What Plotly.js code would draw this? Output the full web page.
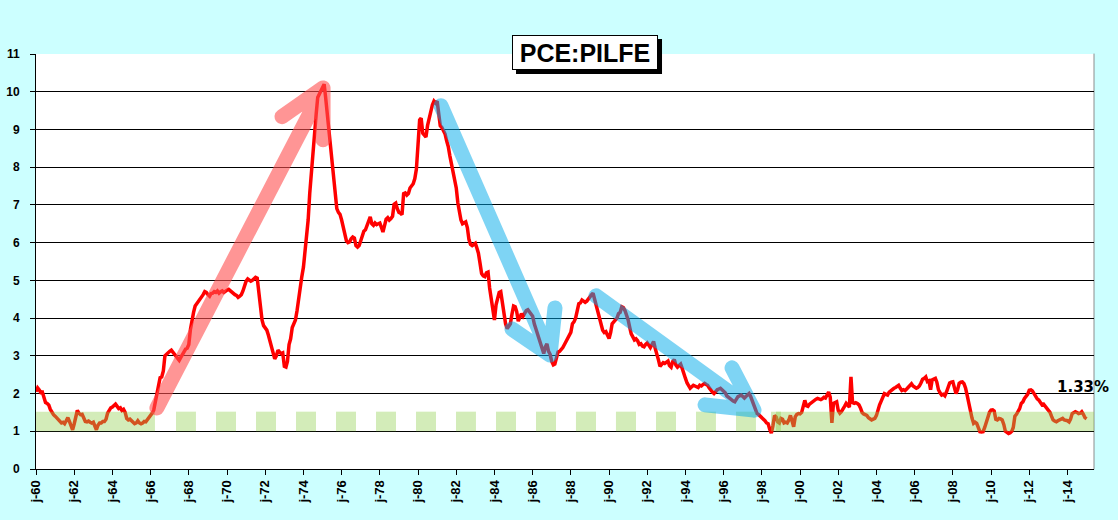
<!DOCTYPE html>
<html>
<head>
<meta charset="utf-8">
<script src="https://cdn.plot.ly/plotly-3.0.1.min.js"></script>
<style>
html, body { margin: 0; padding: 0; background: #CCFFFF; }
#plot { width: 1118px; height: 520px; }
.shapelayer path { stroke-linecap: round; stroke-linejoin: round; }
</style>
</head>
<body>
<div id="plot"></div>
<script>
// core PCE, yoy %, monthly from Jan 1960
var startYear = 1960;
var Core = [
  2.05, 2.15, 2.10, 2.03, 2.04, 1.88, 1.76, 1.74, 1.70, 1.58, 1.50, 1.44, // 1960
  1.40, 1.36, 1.32, 1.27, 1.22, 1.24, 1.20, 1.28, 1.36, 1.26, 1.12, 1.04,
  1.20, 1.38, 1.55, 1.48, 1.44, 1.45, 1.32, 1.26, 1.25, 1.27, 1.24, 1.22,
  1.24, 1.15, 1.04, 1.16, 1.22, 1.22, 1.26, 1.26, 1.32, 1.48, 1.55, 1.62,
  1.64, 1.70, 1.72, 1.66, 1.60, 1.62, 1.55, 1.58, 1.50, 1.34, 1.30, 1.32,
  1.28, 1.24, 1.20, 1.22, 1.28, 1.22, 1.20, 1.22, 1.26, 1.25, 1.30, 1.36, // 1965
  1.42, 1.48, 1.56, 1.80, 2.00, 2.30, 2.42, 2.44, 2.60, 3.00, 3.05, 3.10,
  3.12, 3.15, 3.10, 3.05, 2.98, 2.92, 2.88, 2.96, 3.05, 3.10, 3.18, 3.20,
  3.30, 3.70, 3.98, 4.15, 4.32, 4.38, 4.42, 4.48, 4.55, 4.62, 4.70, 4.68,
  4.62, 4.58, 4.65, 4.66, 4.70, 4.68, 4.72, 4.66, 4.70, 4.72, 4.68, 4.72,
  4.74, 4.76, 4.72, 4.70, 4.65, 4.62, 4.60, 4.55, 4.58, 4.62, 4.72, 4.85, // 1970
  4.98, 5.04, 5.02, 4.98, 5.00, 5.04, 5.08, 5.06, 4.70, 4.20, 3.95, 3.80,
  3.75, 3.68, 3.55, 3.40, 3.28, 3.05, 2.92, 3.00, 3.15, 3.10, 3.06, 3.08,
  2.72, 2.70, 2.85, 3.30, 3.45, 3.75, 3.85, 3.95, 4.20, 4.55, 4.85, 5.10,
  5.35, 5.80, 6.10, 6.60, 7.30, 7.90, 8.30, 8.80, 9.40, 9.85, 9.95, 10.05,
  10.10, 10.20, 9.85, 9.40, 9.00, 8.55, 8.00, 7.60, 7.10, 6.90, 6.80, 6.75, // 1975
  6.60, 6.40, 6.20, 6.05, 6.00, 6.02, 6.10, 6.15, 6.12, 5.92, 5.88, 5.92,
  6.05, 6.22, 6.30, 6.34, 6.45, 6.62, 6.68, 6.50, 6.46, 6.52, 6.48, 6.50,
  6.52, 6.40, 6.28, 6.45, 6.62, 6.66, 6.60, 6.64, 6.70, 7.02, 7.05, 6.90,
  6.80, 6.78, 6.74, 7.30, 7.32, 7.26, 7.30, 7.45, 7.50, 7.56, 7.70, 7.95,
  8.60, 9.25, 9.30, 8.90, 8.85, 8.80, 9.10, 9.30, 9.50, 9.65, 9.75, 9.70, // 1980
  9.75, 9.35, 9.10, 9.05, 8.95, 8.88, 8.70, 8.55, 8.30, 8.10, 7.90, 7.72,
  7.45, 7.05, 6.80, 6.60, 6.50, 6.52, 6.55, 6.40, 6.08, 5.95, 5.92, 5.95,
  5.98, 5.85, 5.72, 5.45, 5.18, 5.12, 5.10, 5.20, 5.22, 4.80, 4.55, 4.30,
  3.95, 4.35, 4.55, 4.68, 4.70, 4.40, 4.10, 3.85, 3.72, 3.80, 3.85, 4.10,
  4.32, 4.30, 4.18, 3.92, 4.02, 4.12, 4.05, 4.14, 4.20, 4.22, 4.16, 4.08, // 1985
  4.05, 3.85, 3.72, 3.62, 3.50, 3.36, 3.20, 3.06, 3.24, 3.32, 3.12, 3.04,
  2.85, 2.76, 2.78, 2.92, 3.10, 3.12, 3.16, 3.22, 3.30, 3.38, 3.48, 3.55,
  3.62, 3.85, 3.90, 4.00, 4.20, 4.38, 4.40, 4.48, 4.45, 4.42, 4.45, 4.52,
  4.56, 4.62, 4.66, 4.50, 4.38, 4.20, 4.02, 3.85, 3.68, 3.62, 3.64, 3.55,
  3.46, 3.62, 3.85, 3.90, 3.95, 4.00, 4.12, 4.15, 4.30, 4.28, 4.20, 4.10, // 1990
  3.95, 3.75, 3.58, 3.50, 3.42, 3.45, 3.40, 3.30, 3.32, 3.26, 3.24, 3.30,
  3.34, 3.28, 3.22, 3.30, 3.38, 3.20, 3.00, 2.90, 2.72, 2.78, 2.82, 2.80,
  2.82, 2.86, 2.74, 2.70, 2.85, 2.90, 2.76, 2.70, 2.74, 2.78, 2.66, 2.50,
  2.40, 2.28, 2.20, 2.14, 2.18, 2.22, 2.20, 2.18, 2.16, 2.22, 2.20, 2.24,
  2.27, 2.24, 2.22, 2.15, 2.08, 2.04, 2.00, 2.06, 2.10, 2.12, 2.14, 2.10, // 1995
  2.06, 2.02, 1.94, 1.90, 1.88, 1.84, 1.80, 1.78, 1.86, 1.92, 1.94, 1.96,
  1.92, 1.88, 1.92, 1.98, 2.00, 1.92, 1.80, 1.65, 1.55, 1.47, 1.44, 1.40,
  1.38, 1.32, 1.28, 1.22, 1.20, 1.05, 0.95, 1.15, 1.42, 1.38, 1.25, 1.22,
  1.34, 1.32, 1.22, 1.24, 1.22, 1.30, 1.42, 1.28, 1.12, 1.38, 1.45, 1.47,
  1.46, 1.50, 1.70, 1.82, 1.68, 1.66, 1.72, 1.76, 1.78, 1.84, 1.85, 1.87, // 2000
  1.86, 1.84, 1.86, 1.90, 1.88, 1.96, 2.04, 1.90, 1.22, 1.74, 1.76, 1.78,
  1.55, 1.48, 1.52, 1.58, 1.66, 1.74, 1.68, 1.64, 2.44, 1.76, 1.74, 1.76,
  1.74, 1.70, 1.62, 1.50, 1.46, 1.44, 1.42, 1.36, 1.34, 1.30, 1.32, 1.34,
  1.42, 1.62, 1.70, 1.80, 1.92, 2.00, 1.98, 1.96, 2.04, 2.08, 2.12, 2.14,
  2.16, 2.18, 2.22, 2.14, 2.08, 2.10, 2.08, 2.12, 2.18, 2.20, 2.26, 2.20, // 2005
  2.16, 2.14, 2.16, 2.20, 2.28, 2.38, 2.40, 2.44, 2.32, 2.34, 2.10, 2.36,
  2.38, 2.40, 2.30, 2.10, 2.02, 1.96, 1.98, 1.94, 2.04, 2.18, 2.28, 2.30,
  2.31, 2.15, 2.00, 2.10, 2.27, 2.30, 2.31, 2.26, 2.14, 1.95, 1.74, 1.45,
  1.35, 1.21, 1.24, 1.21, 1.12, 0.99, 0.98, 0.99, 1.10, 1.25, 1.39, 1.50,
  1.56, 1.57, 1.54, 1.32, 1.30, 1.34, 1.33, 1.30, 1.18, 1.00, 0.97, 0.94, // 2010
  0.96, 1.00, 1.10, 1.40, 1.45, 1.52, 1.60, 1.74, 1.78, 1.87, 1.92, 1.98,
  2.09, 2.10, 2.07, 2.00, 1.92, 1.86, 1.83, 1.78, 1.70, 1.72, 1.66, 1.60,
  1.56, 1.50, 1.40, 1.30, 1.27, 1.25, 1.28, 1.30, 1.32, 1.34, 1.30, 1.30,
  1.28, 1.25, 1.32, 1.47, 1.50, 1.52, 1.50, 1.47, 1.48, 1.52, 1.45, 1.36,
  1.33 // Jan 2015
];

var tickLabels = ["j-60","j-62","j-64","j-66","j-68","j-70","j-72","j-74","j-76","j-78",
  "j-80","j-82","j-84","j-86","j-88","j-90","j-92","j-94","j-96","j-98",
  "j-00","j-02","j-04","j-06","j-08","j-10","j-12","j-14"];

var lastLabel = "1.33%";
var chartTitle = "PCE:PILFE";

// months for the x axis
var Months = [];
for (var i = 0; i < Core.length; i++) {
  var yr = startYear + Math.floor(i / 12);
  var mo = i % 12 + 1;
  Months.push(yr + "-" + (mo < 10 ? "0" + mo : mo) + "-01");
}
var tickDates = [];
for (var k = 0; k < tickLabels.length; k++) {
  tickDates.push((startYear + 2 * k) + "-01-01");
}

// decimal year -> date string
function yd(t) {
  var y = Math.floor(t);
  var a = Date.UTC(y, 0, 1), b = Date.UTC(y + 1, 0, 1);
  return new Date(a + (t - y) * (b - a)).toISOString().slice(0, 10);
}

var xEnd = 2015.39;

var shapes = [];

// right border of the plot area
shapes.push({type: "line", xref: "paper", yref: "paper", x0: 1, x1: 1, y0: 0, y1: 1,
  line: {color: "#8c8c8c", width: 1}, layer: "below"});

// green 1 - 1.5 band
function band(a, b) {
  shapes.push({type: "rect", xref: "x", yref: "y", x0: yd(a), x1: yd(b), y0: 1, y1: 1.52,
    fillcolor: "rgb(146,208,80)", opacity: 0.4, line: {width: 0}, layer: "above"});
}
band(1960, 1966.23);
for (var d = 0; d < 15; d++) {
  band(1967.33 + 2.094 * d, 1967.33 + 2.094 * d + 1.047);
}
band(1998.48, xEnd);
band(1998.74, 1999.0);

// arrows
function pt(t, v) { return yd(t) + "," + v; }
function arrow(a, tip, w1, w2, color, op) {
  shapes.push({type: "path", xref: "x", yref: "y",
    path: "M" + pt(a[0], a[1]) + " L" + pt(tip[0], tip[1]) +
          " M" + pt(w1[0], w1[1]) + " L" + pt(tip[0], tip[1]) + " L" + pt(w2[0], w2[1]),
    line: {color: color, width: 15}, opacity: op, layer: "above"});
}
arrow([1966.33, 1.62], [1975.03, 10.1], [1972.88, 9.34], [1975.03, 8.73], "rgb(255,80,80)", 0.6);
arrow([1981.2, 9.63], [1986.91, 3.02], [1984.92, 3.71], [1987.17, 4.27], "rgb(0,170,235)", 0.5);
arrow([1989.32, 4.59], [1997.59, 1.56], [1995.03, 1.70], [1996.44, 2.68], "rgb(0,170,235)", 0.5);

// drop shadow behind the title box
shapes.push({type: "rect", xref: "paper", yref: "paper", x0: 0.4537, x1: 0.5917, y0: 0.9518, y1: 1.0361,
  fillcolor: "#000", line: {width: 0}, layer: "above"});

var traceCore = {
  x: Months,
  y: Core,
  type: "scatter",
  mode: "lines",
  line: {color: "#FF0000", width: 3.5},
  hoverinfo: "skip"
};

var xFont = {family: "Liberation Sans, Arial, sans-serif", size: 13, color: "#000", weight: "bold"};
var yFont = {family: "Liberation Sans, Arial, sans-serif", size: 12, color: "#000", weight: "bold"};
var titleFont = {family: "Liberation Sans, Arial, sans-serif", size: 25, color: "#000", weight: "bold"};

var layout = {
  width: 1118,
  height: 520,
  margin: {l: 36, r: 24, t: 54, b: 51},
  paper_bgcolor: "#CCFFFF",
  plot_bgcolor: "#FFFFFF",
  showlegend: false,
  xaxis: {
    type: "date",
    range: [yd(startYear), yd(xEnd)],
    tickmode: "array",
    tickvals: tickDates,
    ticktext: tickLabels,
    tickangle: -90,
    ticks: "outside",
    ticklen: 5,
    tickcolor: "#000",
    tickfont: xFont,
    showgrid: false,
    showline: true,
    linecolor: "#000",
    linewidth: 1,
    zeroline: false
  },
  yaxis: {
    range: [0, 11],
    tick0: 0,
    dtick: 1,
    ticks: "outside",
    ticklen: 5,
    tickcolor: "#000",
    tickfont: yFont,
    ticklabelstandoff: 8,
    showgrid: true,
    gridcolor: "#000",
    gridwidth: 1,
    showline: true,
    linecolor: "#000",
    linewidth: 1,
    zeroline: false
  },
  shapes: shapes,
  annotations: [
    {xref: "paper", yref: "paper", x: 0.519, y: 1.0036, xanchor: "center", yanchor: "middle",
     text: chartTitle, showarrow: false, font: titleFont, bgcolor: "#FFF", bordercolor: "#000",
     borderwidth: 1, borderpad: 0, width: 144, height: 33},
    {xref: "x", yref: "y", x: yd(2014.84), y: 2.17, text: lastLabel, showarrow: false,
     font: {family: "DejaVu Sans, sans-serif", size: 15, color: "#000", weight: "bold"}}
  ]
};

Plotly.newPlot("plot", [traceCore], layout, {displayModeBar: false, staticPlot: true});
</script>
</body>
</html>
